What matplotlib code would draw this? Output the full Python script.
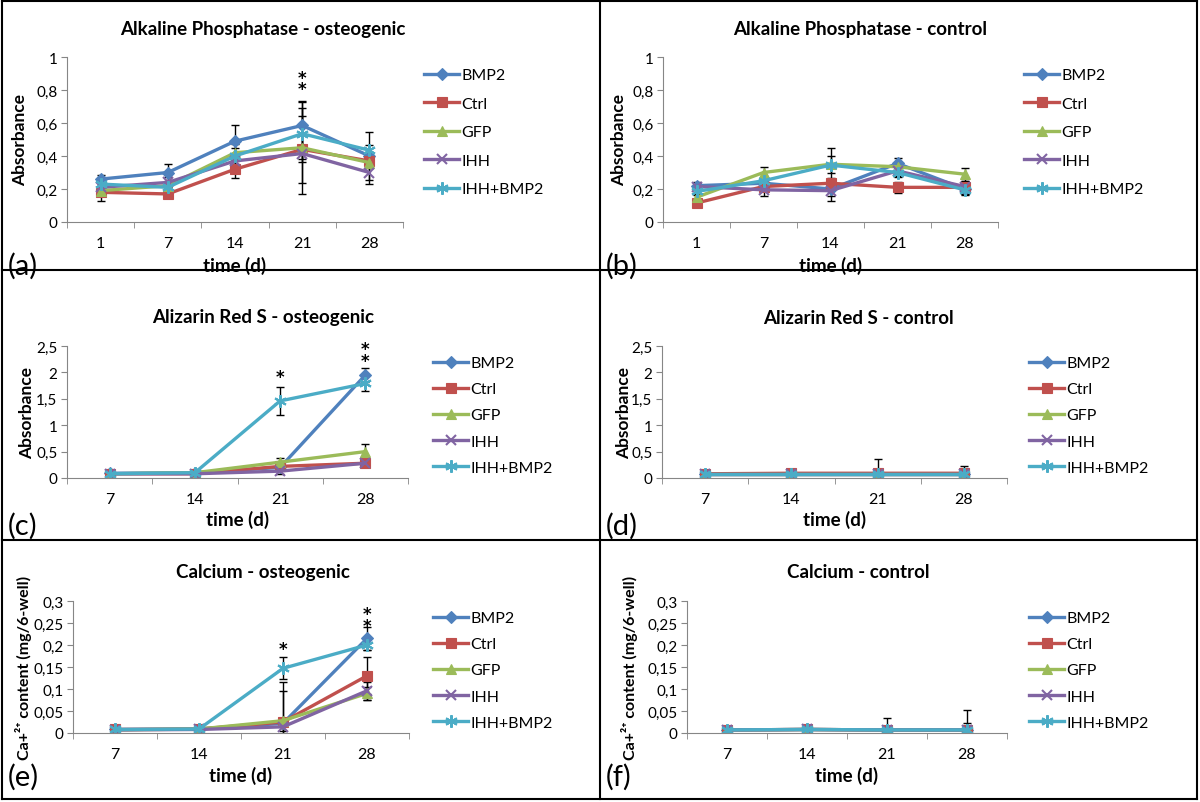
import matplotlib
matplotlib.use('Agg')
import matplotlib.pyplot as plt
from matplotlib.lines import Line2D
from matplotlib.ticker import FuncFormatter, FixedLocator

plt.rcParams['font.family'] = ['Lato', 'DejaVu Sans']

# groups and time points
groups = ['BMP2', 'Ctrl', 'GFP', 'IHH', 'IHH+BMP2']
days_alp = ['1', '7', '14', '21', '28']
days_min = ['7', '14', '21', '28']

# (a) Alkaline phosphatase, osteogenic medium
alp_ost = [[0.26, 0.30, 0.49, 0.585, 0.40],
           [0.18, 0.17, 0.32, 0.44, 0.37],
           [0.19, 0.22, 0.42, 0.45, 0.36],
           [0.21, 0.24, 0.37, 0.415, 0.30],
           [0.23, 0.21, 0.40, 0.535, 0.435]]
alp_ost_err = [[0.025, 0.05, 0.095, 0.15, 0.145],
               [0.055, 0.02, 0.055, 0.205, 0.03],
               [0.03, 0.02, 0.05, 0.28, 0.03],
               [0.03, 0.03, 0.03, 0.05, 0.07],
               [0.03, 0.02, 0.05, 0.155, 0.03]]

# (b) Alkaline phosphatase, control medium
alp_ctl = [[0.22, 0.235, 0.20, 0.355, 0.20],
           [0.115, 0.215, 0.235, 0.21, 0.21],
           [0.15, 0.30, 0.35, 0.335, 0.29],
           [0.215, 0.195, 0.19, 0.31, 0.215],
           [0.185, 0.25, 0.345, 0.30, 0.195]]
alp_ctl_err = [[0.025, 0.03, 0.045, 0.03, 0.03],
               [0.02, 0.03, 0.03, 0.035, 0.04],
               [0.02, 0.035, 0.05, 0.03, 0.04],
               [0.02, 0.04, 0.06, 0.03, 0.03],
               [0.02, 0.03, 0.105, 0.03, 0.03]]

# (c) Alizarin Red S, osteogenic medium
ars_ost = [[0.09, 0.10, 0.20, 1.95],
           [0.08, 0.08, 0.22, 0.28],
           [0.08, 0.10, 0.30, 0.50],
           [0.08, 0.08, 0.13, 0.28],
           [0.08, 0.10, 1.46, 1.79]]
ars_ost_err = [[0.01, 0.01, 0.05, 0.14],
               [0.01, 0.01, 0.05, 0.05],
               [0.01, 0.01, 0.07, 0.14],
               [0.01, 0.01, 0.06, 0.05],
               [0.01, 0.01, 0.26, 0.14]]

# (d) Alizarin Red S, control medium
ars_ctl = [[0.08, 0.08, 0.08, 0.08],
           [0.08, 0.09, 0.09, 0.09],
           [0.08, 0.08, 0.08, 0.08],
           [0.08, 0.08, 0.08, 0.08],
           [0.08, 0.08, 0.08, 0.08]]
ars_ctl_err = [[0.01, 0.01, 0.01, 0.01],
               [0.01, 0.01, 0.27, 0.13],
               [0.01, 0.01, 0.01, 0.01],
               [0.01, 0.01, 0.01, 0.01],
               [0.01, 0.01, 0.01, 0.01]]

# (e) Calcium content, osteogenic medium
ca_ost = [[0.008, 0.009, 0.022, 0.215],
          [0.008, 0.009, 0.025, 0.13],
          [0.007, 0.009, 0.028, 0.09],
          [0.007, 0.008, 0.014, 0.096],
          [0.008, 0.009, 0.147, 0.20]]
ca_ost_err = [[0.001, 0.001, 0.095, 0.027],
              [0.001, 0.001, 0.07, 0.042],
              [0.001, 0.001, 0.005, 0.015],
              [0.001, 0.001, 0.01, 0.02],
              [0.001, 0.001, 0.025, 0.012]]

# (f) Calcium content, control medium
ca_ctl = [[0.007, 0.008, 0.007, 0.007],
          [0.007, 0.008, 0.007, 0.007],
          [0.007, 0.008, 0.007, 0.007],
          [0.007, 0.008, 0.007, 0.007],
          [0.007, 0.008, 0.007, 0.007]]
ca_ctl_err = [[0.001, 0.001, 0.001, 0.015],
              [0.001, 0.001, 0.028, 0.046],
              [0.001, 0.001, 0.001, 0.001],
              [0.001, 0.001, 0.001, 0.001],
              [0.001, 0.001, 0.001, 0.001]]

# significance stars: (time index, y centre, number of stars)
stars_a = [(3, 0.84, 2)]
stars_c = [(2, 1.91, 1), (3, 2.33, 2)]
stars_e = [(2, 0.19, 1), (3, 0.257, 2)]

colors = ['#4F81BD', '#C0504D', '#9BBB59', '#8064A2', '#4BACC6']
markers = ['D', 's', '^', 'x', (6, 2, 0)]
msizes = [6, 7, 7, 7, 9]

W, H = 1200, 803
fig = plt.figure(figsize=(W / 100, H / 100), dpi=100)


def comma(v, pos):
    s = ('%.2f' % v).rstrip('0').rstrip('.')
    return s.replace('.', ',')


def panel(box, title, title_xy, cats, vals, errs, ymax, ystep, ylabel, ylab_x,
          ylab_size, leg_xy, leg_space, letter, letter_xy, xlab_y, stars=()):
    l, r, t, b = box
    ax = fig.add_axes([l / W, 1 - b / H, (r - l) / W, (b - t) / H])
    x = list(range(len(cats)))
    handles = []
    for k in range(len(groups)):
        ax.errorbar(x, vals[k], yerr=errs[k], fmt='none', ecolor='black',
                    elinewidth=1, capsize=3, capthick=1, zorder=1)
        ax.plot(x, vals[k], color=colors[k], marker=markers[k],
                ms=msizes[k], mew=1.5 if k >= 3 else 0.8,
                mec=colors[k], lw=2.4, zorder=2 + k * 0.1)
        handles.append(Line2D([], [], color=colors[k], marker=markers[k],
                              ms=msizes[k], mew=1.5 if k >= 3 else 0.8,
                              lw=2.4))
    for i, yv, cnt in stars:
        ax.text(i, yv, '\n'.join(['*'] * cnt), ha='center', va='center',
                fontsize=12, fontweight='bold', family='DejaVu Sans',
                linespacing=0.55)
    ax.set_xlim(-0.5, len(cats) - 0.5)
    ax.set_ylim(0, ymax)
    n = int(round(ymax / ystep))
    ax.yaxis.set_major_locator(FixedLocator([i * ystep for i in range(n + 1)]))
    ax.yaxis.set_major_formatter(FuncFormatter(comma))
    ax.set_xticks(x)
    ax.set_xticklabels(cats)
    ax.set_xticks([i - 0.5 for i in range(len(cats) + 1)], minor=True)
    ax.tick_params(axis='x', which='major', length=0, pad=10, labelsize=11.5)
    ax.tick_params(axis='x', which='minor', length=4, color='#868686')
    ax.tick_params(axis='y', length=4, color='#868686', labelsize=11, pad=3)
    for s in ['top', 'right']:
        ax.spines[s].set_visible(False)
    for s in ['left', 'bottom']:
        ax.spines[s].set_color('#868686')
    ax.set_facecolor('none')
    fig.text(title_xy[0] / W, 1 - title_xy[1] / H, title, ha='center',
             va='center', fontsize=13.5, fontweight='bold')
    fig.text(ylab_x / W, 1 - (t + b) / 2 / H, ylabel, rotation=90, ha='center',
             va='center', fontsize=ylab_size, fontweight='bold')
    fig.text((l + r) / 2 / W, 1 - xlab_y / H, 'time (d)', ha='center',
             va='center', fontsize=13.5, fontweight='bold')
    fig.text(letter_xy[0] / W, 1 - letter_xy[1] / H, letter, ha='left',
             va='center', fontsize=21)
    ax.legend(handles, groups, loc='upper left', frameon=False,
              bbox_to_anchor=(leg_xy[0] / W, 1 - leg_xy[1] / H),
              bbox_transform=fig.transFigure, borderpad=0, fontsize=11.5,
              handlelength=2.2, handletextpad=0.15, labelspacing=leg_space)
    return ax


ca_label = 'Ca+²⁺ content (mg/6-well)'

panel((67, 403, 58, 223), 'Alkaline Phosphatase - osteogenic', (263, 30),
      days_alp, alp_ost, alp_ost_err, 1.0, 0.2, 'Absorbance', 20, 12.5,
      (416, 61), 0.9, '(a)', (8, 266), 266, stars_a)
panel((663, 998, 58, 223), 'Alkaline Phosphatase - control', (860, 30),
      days_alp, alp_ctl, alp_ctl_err, 1.0, 0.2, 'Absorbance', 619, 12.5,
      (1016, 61), 0.9, '(b)', (606, 266), 266)
panel((67, 408, 347, 479), 'Alizarin Red S - osteogenic', (263, 318),
      days_min, ars_ost, ars_ost_err, 2.5, 0.5, 'Absorbance', 27, 12.5,
      (425, 349), 0.75, '(c)', (8, 526), 520, stars_c)
panel((662, 1007, 347, 479), 'Alizarin Red S - control', (858, 318),
      days_min, ars_ctl, ars_ctl_err, 2.5, 0.5, 'Absorbance', 624, 12.5,
      (1021, 349), 0.75, '(d)', (606, 526), 520)
panel((73, 409, 602, 734), 'Calcium - osteogenic', (263, 573),
      days_min, ca_ost, ca_ost_err, 0.3, 0.05, ca_label, 24, 11.5,
      (425, 604), 0.75, '(e)', (8, 777), 776, stars_e)
panel((687, 1007, 602, 734), 'Calcium - control', (858, 573),
      days_min, ca_ctl, ca_ctl_err, 0.3, 0.05, ca_label, 629, 11.5,
      (1021, 604), 0.75, '(f)', (606, 777), 776)

# panel frame lines
def fline(x0, y0, x1, y1, lw=1.5):
    fig.add_artist(Line2D([x0 / W, x1 / W], [1 - y0 / H, 1 - y1 / H],
                          color='black', lw=lw))

fline(2, 2, 1197, 2)
fline(2, 800, 1197, 800)
fline(2, 2, 2, 800)
fline(1197, 2, 1197, 800)
fline(600, 2, 600, 800)
fline(2, 271, 1197, 271)
fline(2, 541, 1197, 541)

fig.savefig('out.png', dpi=100)
